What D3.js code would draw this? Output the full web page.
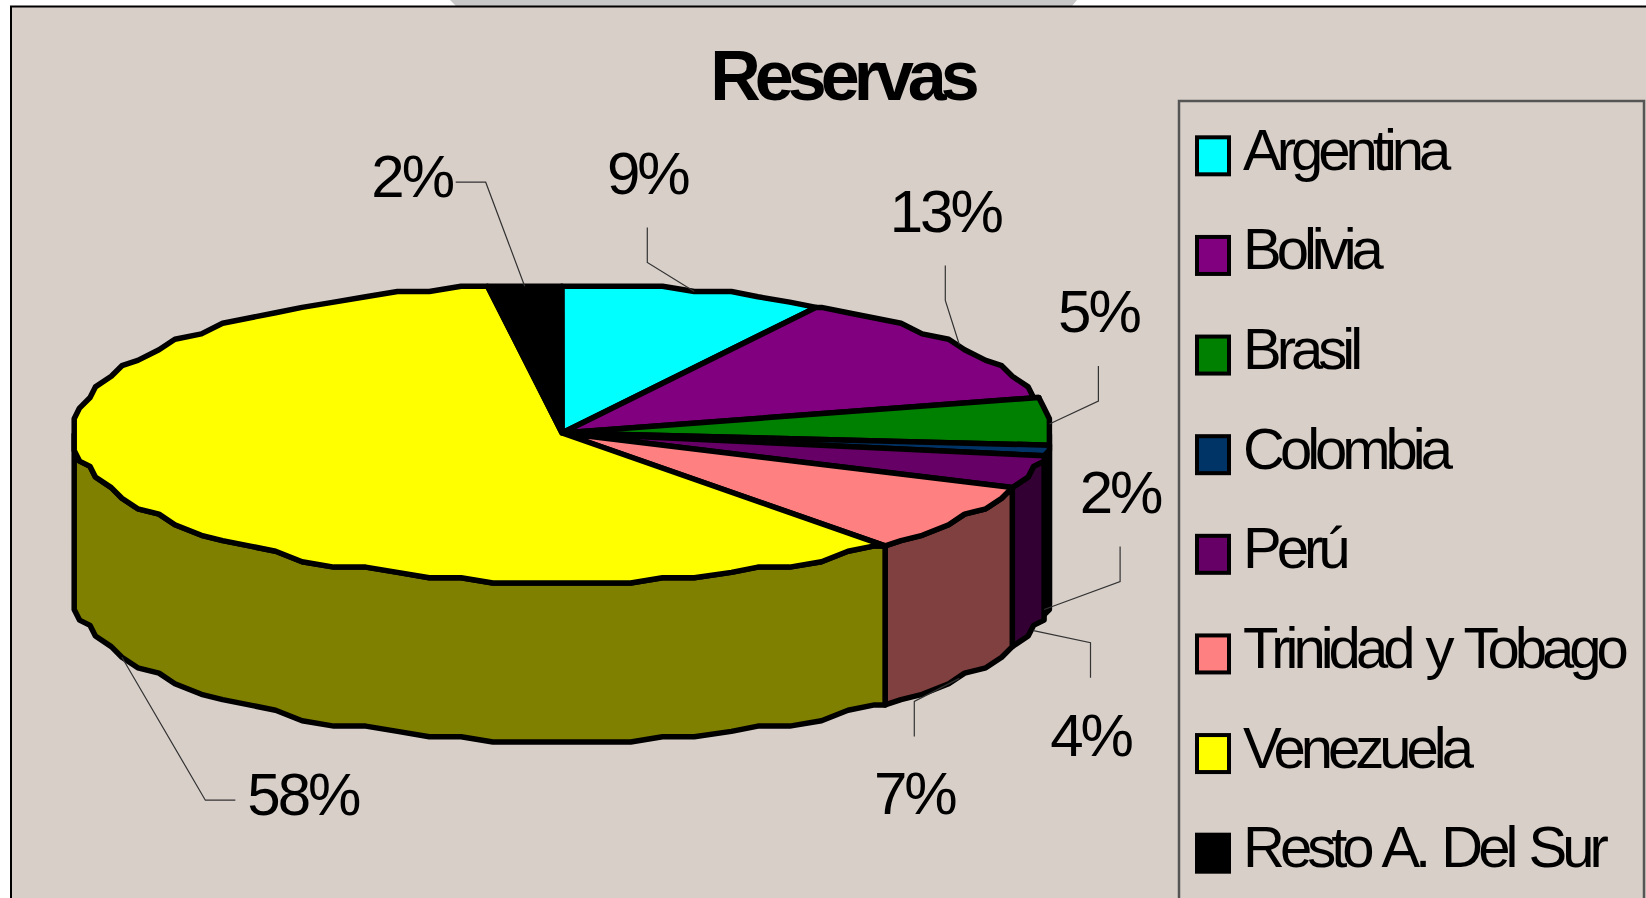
<!DOCTYPE html>
<html>
<head>
<meta charset="utf-8">
<script src="https://cdn.jsdelivr.net/npm/d3@7"></script>
<style>
  body { margin: 0; background: #fff; }
  svg { display: block; }
  text { font-family: "Liberation Sans", Arial, sans-serif; fill: #000; }
</style>
</head>
<body>
<div id="chart"></div>
<script>
// data
const countries = ["Argentina", "Bolivia", "Brasil", "Colombia", "Perú", "Trinidad y Tobago", "Venezuela", "Resto A. Del Sur"];
const shares = [8.6, 12.6, 4.6, 1.5, 3.6, 7.2, 58.4, 2.4];
const sliceColors = ["#00FFFF", "#800080", "#008000", "#003366", "#660066", "#FF8080", "#FFFF00", "#000000"];
const chartTitle = "Reservas";

// label placement: offset of the label centre from its rim anchor, leader direction
const labelOffsets = [[-47, -120, "v"], [-14, -135, "v"], [49, -114, "v"], [76, -119, "v"],
                      [57, 103, "v"], [-45, 114, "v"], [181, 136, "h"], [-113, -111, "h"]];

const width = 1646, height = 898;
const bg = "#D8CFC9";

// 3d pie geometry
const cx = 562, cy = 433, rx = 488, ry = 149, depth = 159;
const grid = 5.3;          // coarse rim, like the old renderer
const step = Math.PI / 45; // rim sampling

const svg = d3.select("#chart")
      .append("svg")
      .attr("width", width)
      .attr("height", height)
      .attr("viewBox", [0, 0, width, height]);

// page strip above the chart area
svg.append("rect").attr("width", width).attr("height", height).attr("fill", "#fff");
svg.append("path")
    .attr("d", d3.line()([[450, 0], [1077, 0], [1072, 6], [456, 6]]))
    .attr("fill", "#C8C8C8");
svg.append("rect")
    .attr("x", 11).attr("y", 6.5)
    .attr("width", width + 20).attr("height", height + 20)
    .attr("fill", bg)
    .attr("stroke", "#000")
    .attr("stroke-width", 2);

// title
svg.append("text")
    .attr("x", 842).attr("y", 100)
    .attr("text-anchor", "middle")
    .attr("font-size", 70)
    .attr("font-weight", "bold")
    .attr("letter-spacing", "-6px")
    .text(chartTitle);

// pie layout
const pie = d3.pie().sort(null).startAngle(0).endAngle(2 * Math.PI);
const arcs = pie(shares);

const snap = v => Math.round(v / grid) * grid;
const rim = (a, dy) => [snap(cx + rx * Math.sin(a)), snap(cy - ry * Math.cos(a)) + dy];
const rimPts = (a0, a1, dy) => {
    const angles = [a0];
    for (let k = Math.ceil(a0 / step); k * step < a1; k++) {
        if (k * step > a0) angles.push(k * step);
    }
    angles.push(a1);
    const pts = angles.map(a => rim(a, dy));
    return pts.filter((p, i) => i === 0 || p[0] !== pts[i - 1][0] || p[1] !== pts[i - 1][1]);
};
const line = d3.line();
const sideColor = c => { const r = d3.rgb(c); return d3.rgb(r.r / 2, r.g / 2, r.b / 2).formatHex(); };

const pieG = svg.append("g")
      .attr("stroke", "#000")
      .attr("stroke-width", 5.5)
      .attr("stroke-linejoin", "round");

// outer walls (front half only)
pieG.selectAll("path.wall")
    .data(arcs.filter(d => d.endAngle > Math.PI / 2 && d.startAngle < 3 * Math.PI / 2))
    .join("path")
    .attr("class", "wall")
    .attr("fill", d => sideColor(sliceColors[d.index]))
    .attr("d", d => {
        const a0 = Math.max(d.startAngle, Math.PI / 2);
        const a1 = Math.min(d.endAngle, 3 * Math.PI / 2);
        const top = rimPts(a0, a1, 0);
        const bottom = rimPts(a0, a1, depth).reverse();
        return line(top.concat(bottom)) + "Z";
    });

// top faces
pieG.selectAll("path.top")
    .data(arcs)
    .join("path")
    .attr("class", "top")
    .attr("fill", d => sliceColors[d.index])
    .attr("d", d => line([[cx, cy]].concat(rimPts(d.startAngle, d.endAngle, 0))) + "Z");

// data labels with leader lines
const fmt = v => d3.format(".0f")(v) + "%";
const labelG = svg.append("g");
arcs.forEach((d, i) => {
    const m = (d.startAngle + d.endAngle) / 2;
    const front = m > Math.PI / 2 && m < 3 * Math.PI / 2;
    const anchor = rim(m, front ? depth : 0);
    const [ox, oy, dir] = labelOffsets[i];
    const lx = anchor[0] + ox, ly = anchor[1] + oy;
    const t = labelG.append("text")
        .attr("x", lx).attr("y", ly + 22)
        .attr("text-anchor", "middle")
        .attr("font-size", 60)
        .attr("letter-spacing", "-3px")
        .text(fmt(shares[i]));
    let end, elbow;
    if (dir === "v") {
        const s = anchor[1] > ly ? 1 : -1;
        end = [lx, ly + s * 56];
        elbow = [lx, ly + s * 91];
    } else {
        const bb = t.node().getBBox();
        const s = anchor[0] > lx ? 1 : -1;
        const ex = s > 0 ? bb.x + bb.width + 2 : bb.x - 12;
        end = [ex, ly + 7];
        elbow = [ex + s * 30, ly + 7];
    }
    labelG.append("path")
        .attr("d", line([anchor, elbow, end]))
        .attr("fill", "none")
        .attr("stroke", "#333")
        .attr("stroke-width", 1.2);
});

// legend
const legendX = 1179;
svg.append("rect")
    .attr("x", legendX).attr("y", 101)
    .attr("width", 465).attr("height", 900)
    .attr("fill", "none")
    .attr("stroke", "#555")
    .attr("stroke-width", 2.5);

const legendY = d3.scaleBand().domain(countries).range([106, 903]);
const item = svg.append("g").selectAll("g")
      .data(countries)
      .join("g")
      .attr("transform", d => `translate(0,${legendY(d) + legendY.bandwidth() / 2})`);
item.append("rect")
    .attr("x", legendX + 18).attr("y", -18.5)
    .attr("width", 32).attr("height", 37)
    .attr("fill", (d, i) => sliceColors[i])
    .attr("stroke", "#000")
    .attr("stroke-width", 4);
item.append("text")
    .attr("x", legendX + 64).attr("y", 14)
    .attr("font-size", 58)
    .attr("letter-spacing", "-5px")
    .attr("word-spacing", "4px")
    .text(d => d);
</script>
</body>
</html>
